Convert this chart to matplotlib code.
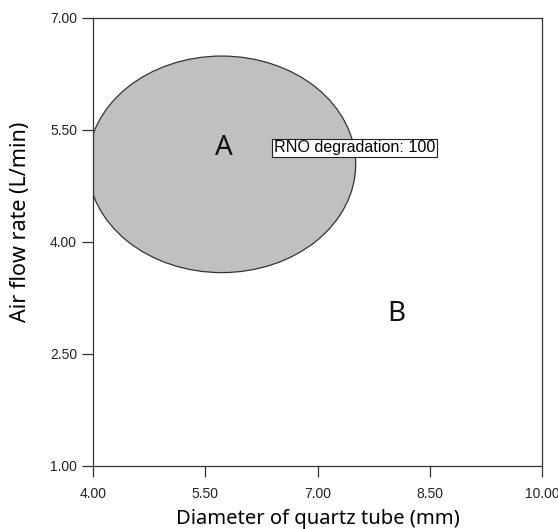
import matplotlib
matplotlib.use("Agg")
import matplotlib.pyplot as plt
from matplotlib.patches import Ellipse

# === Data ===
x_ticks = [4.00, 5.50, 7.00, 8.50, 10.00]
y_ticks = [1.00, 2.50, 4.00, 5.50, 7.00]
x_label = "Diameter of quartz tube (mm)"
y_label = "Air flow rate (L/min)"

# region A (gray ellipse): center and full size in data units
region_center = (5.72, 5.04)
region_size = (3.58, 2.90)

region_labels = ["A", "B"]
region_label_x = [5.75, 8.05]
region_label_y = [5.26, 3.04]

flag_text = "RNO degradation: 100"
flag_x = 6.42
flag_y = 5.26

# === Figure ===
fig = plt.figure(figsize=(5.58, 5.29), dpi=100)
ax = fig.add_axes([0.1667, 0.1191, 0.8046, 0.8469])

ell = Ellipse(region_center, region_size[0], region_size[1],
              facecolor="#c0c0c0", edgecolor="#333333", linewidth=0.9)
ax.add_patch(ell)

for lab, lx, ly in zip(region_labels, region_label_x, region_label_y):
    ax.text(lx, ly, lab, fontsize=20, family="Noto Sans", color="#111111",
            ha="center", va="center")

ax.text(flag_x, flag_y, flag_text, fontsize=11.6, family="Liberation Sans",
        ha="left", va="center",
        bbox=dict(boxstyle="square,pad=0.1", facecolor="white",
                  edgecolor="#222222", linewidth=0.8))

ax.set_xlim(x_ticks[0], x_ticks[-1])
ax.set_ylim(y_ticks[0], y_ticks[-1])
ax.set_xticks(x_ticks)
ax.set_yticks(y_ticks)
ax.set_xticklabels([f"{v:.2f}" for v in x_ticks], family="Liberation Sans", fontsize=10)
ax.set_yticklabels([f"{v:.2f}" for v in y_ticks], family="Liberation Sans", fontsize=10)
ax.tick_params(direction="out", length=8, width=0.9, color="#333333",
               labelcolor="#222222")
ax.tick_params(axis="x", pad=7)
ax.tick_params(axis="y", pad=3.5)

for s in ax.spines.values():
    s.set_color("#333333")
    s.set_linewidth(0.9)

ax.set_xlabel(x_label, fontsize=14.5, family="Noto Sans", labelpad=6)
ax.set_ylabel(y_label, fontsize=15.5, family="Noto Sans")
ax.yaxis.set_label_coords(-0.138, 0.545)

fig.savefig("out.png", dpi=100)
